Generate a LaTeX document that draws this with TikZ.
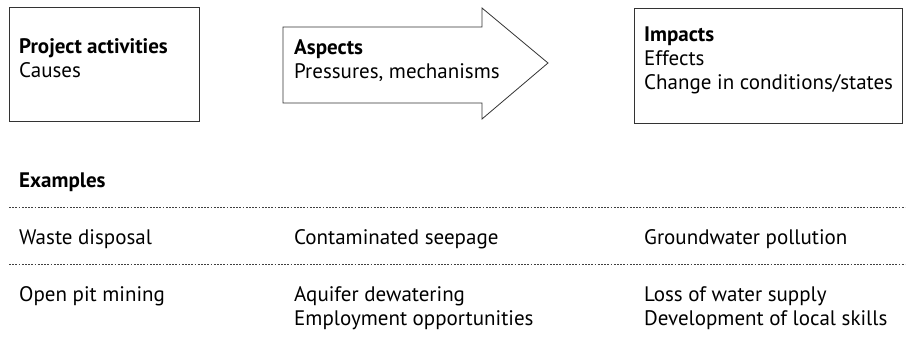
\documentclass[tikz,border=0pt]{standalone}
\usepackage{fontspec}
\setmainfont{PT Sans}
\newcommand{\lns}[1]{\begin{tabular}[t]{@{}l@{}}#1\end{tabular}}
\begin{document}
\begin{tikzpicture}[x=1pt,y=-1pt,
  txt/.style={inner sep=0pt, anchor=base west, font=\fontsize{21}{24}\selectfont},
  boxline/.style={draw=black!80, line width=0.8pt},
  sepline/.style={draw=black!75, line width=0.6pt, dash pattern=on 1.8pt off 1.4pt}]
\useasboundingbox (0,0) rectangle (906,347);
\renewcommand{\arraystretch}{1}
% boxes
\draw[boxline] (9,7) rectangle (199,121);
\draw[boxline] (283,27) -- (482,27) -- (482,8) -- (548,63) -- (482,119) -- (482,103) -- (283,103) -- cycle;
\draw[boxline] (634,8) rectangle (902,123);
\node[txt] (pa) at (19,54) {\lns{\textbf{Project activities}\\Causes}};
\node[txt] (as) at (294,55) {\lns{\textbf{Aspects}\\Pressures, mechanisms}};
\node[txt] (im) at (644,42) {\lns{\textbf{Impacts}\\Effects\\Change in conditions/states}};
% examples
\node[txt] (ex) at (19,188) {\textbf{Examples}};
\coordinate (l1a) at (9,207); \coordinate (l1b) at (905,207);
\coordinate (l2a) at (9,264); \coordinate (l2b) at (905,264);
\draw[sepline] (l1a) -- (l1b);
\draw[sepline] (l2a) -- (l2b);
\node[txt] (r1a) at (19,245) {Waste disposal};
\node[txt] (r1b) at (294,245) {Contaminated seepage};
\node[txt] (r1c) at (644,245) {Groundwater pollution};
\node[txt] (r2a) at (19,302) {Open pit mining};
\node[txt] (r2b) at (294,302) {\lns{Aquifer dewatering\\Employment opportunities}};
\node[txt] (r2c) at (644,302) {\lns{Loss of water supply\\Development of local skills}};
\end{tikzpicture}
\end{document}
